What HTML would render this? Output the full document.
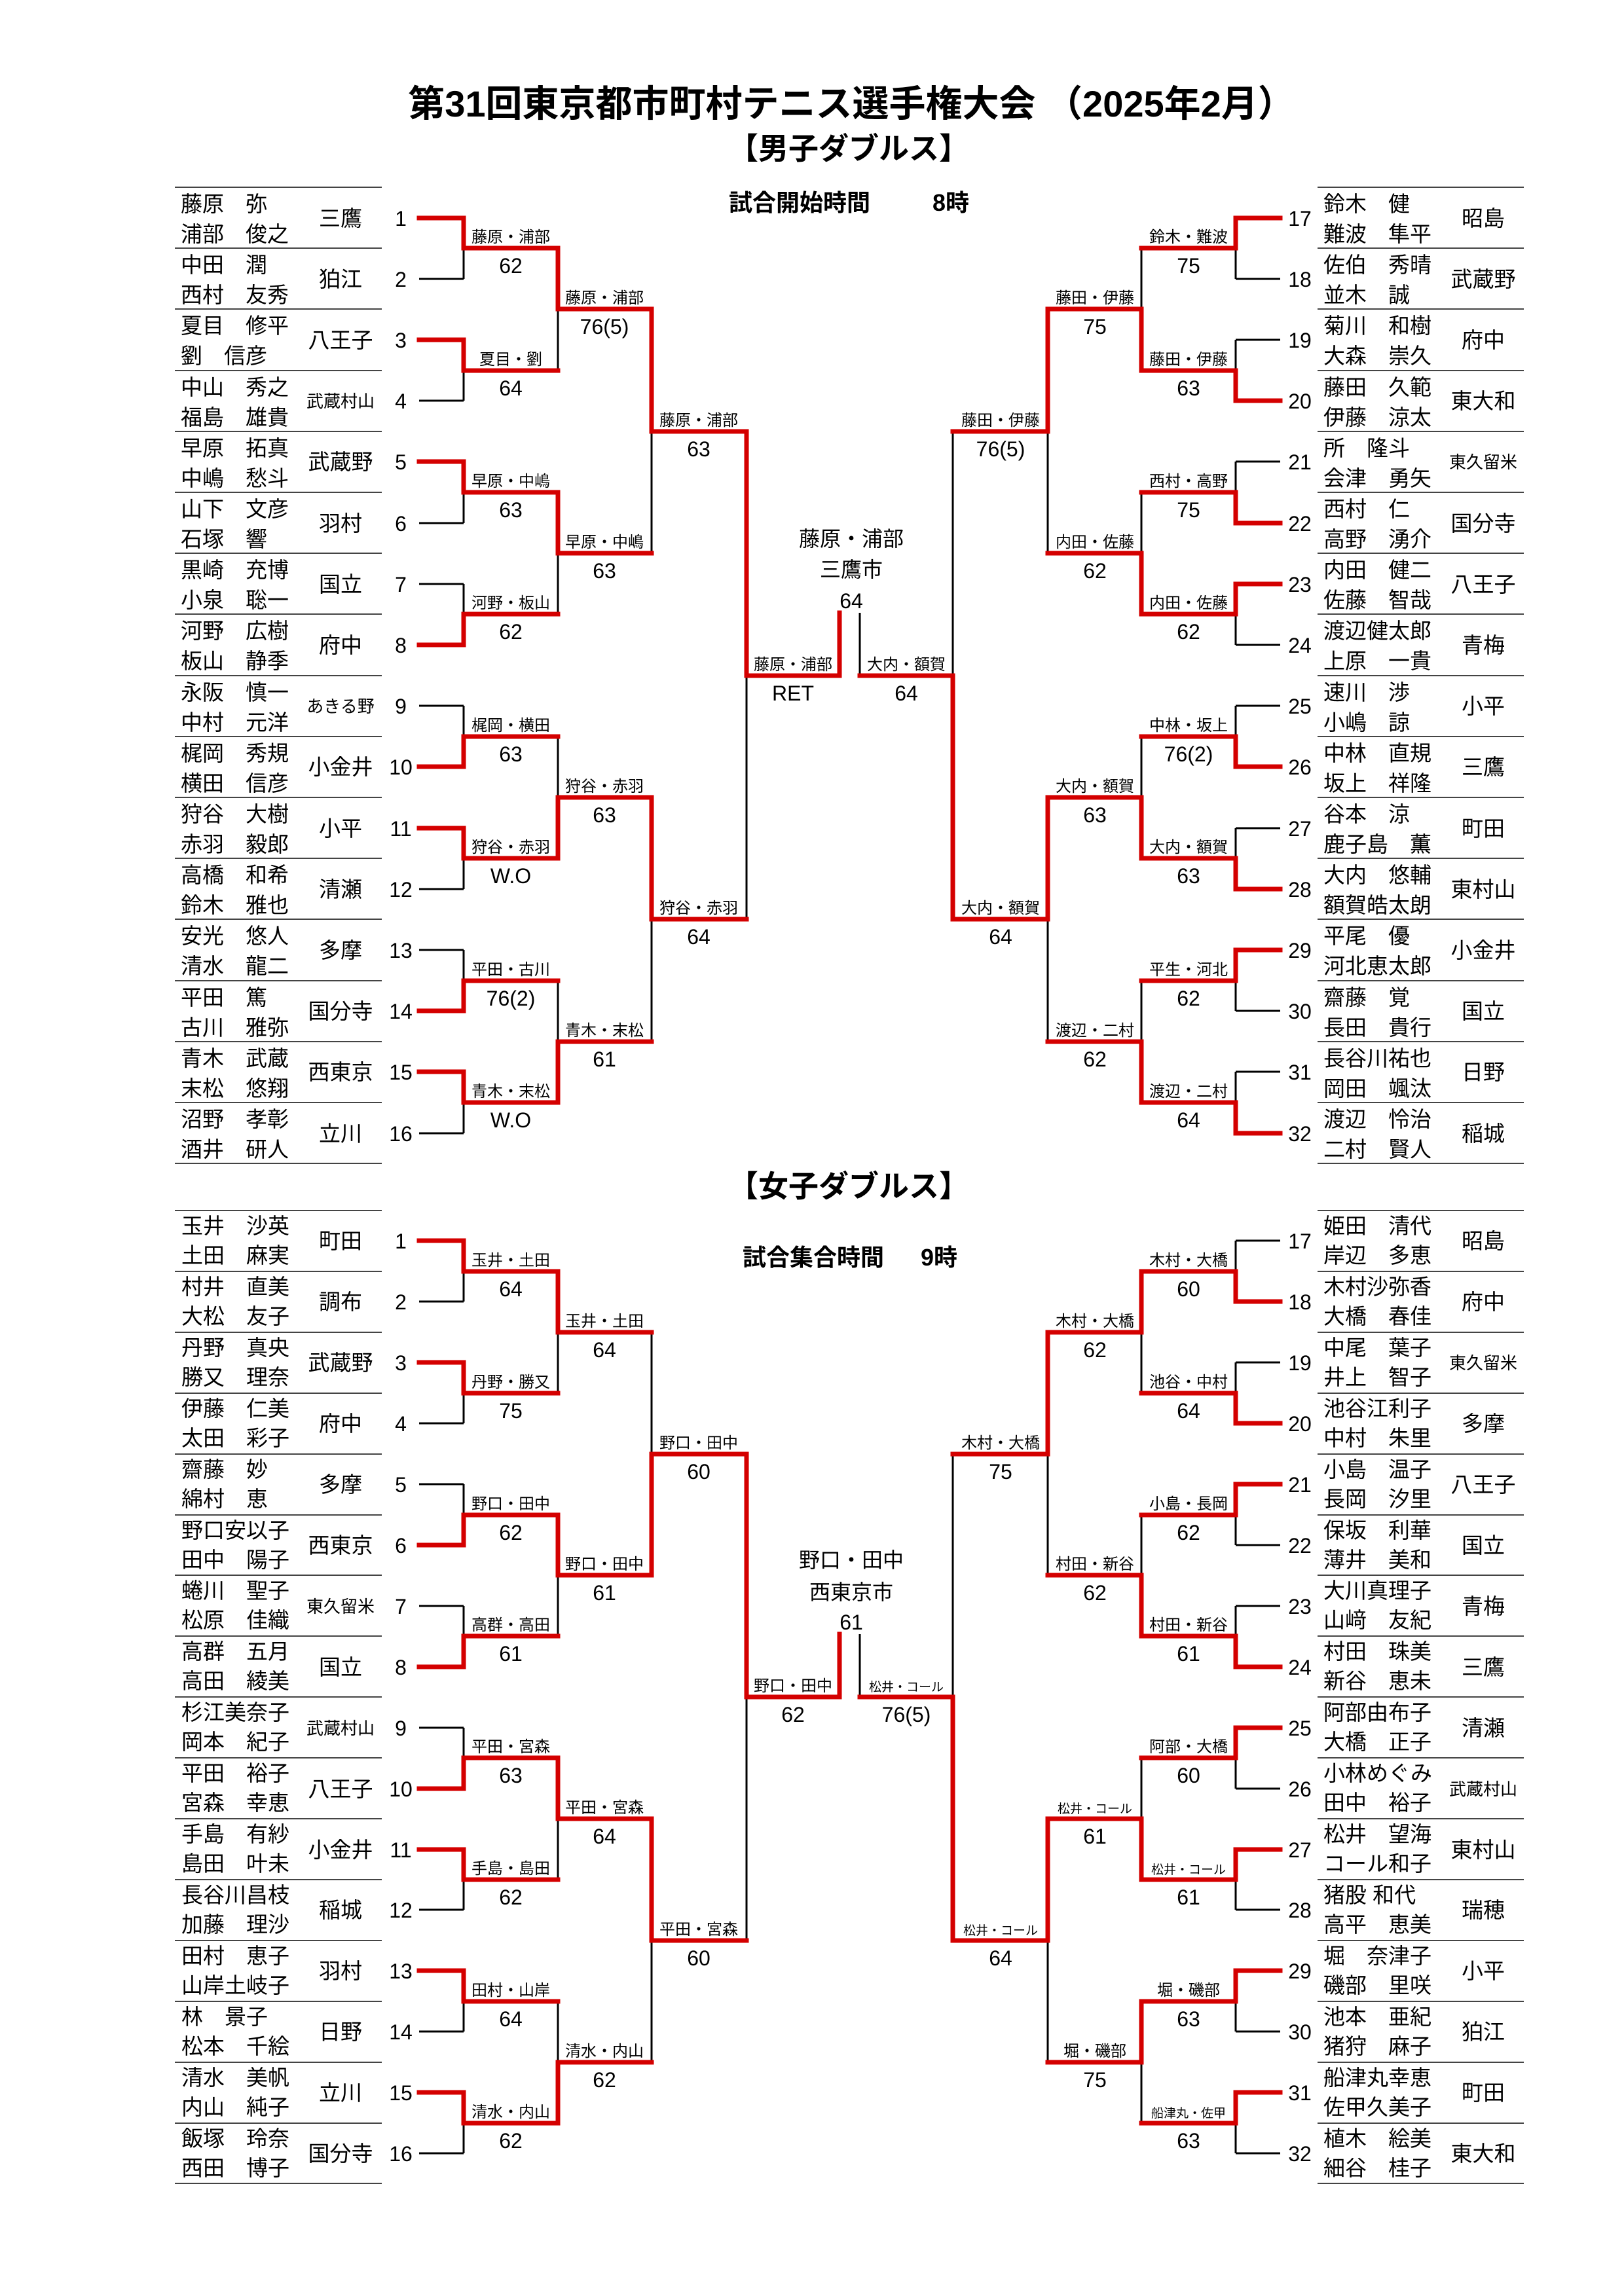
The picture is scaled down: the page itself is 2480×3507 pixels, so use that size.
<!DOCTYPE html>
<html><head><meta charset="utf-8">
<style>
html,body{margin:0;padding:0;background:#fff;}
svg{display:block;}
text{font-family:"Liberation Sans","Noto Sans CJK JP",sans-serif;fill:#000;}
.n{font-size:33px;}
.t{font-size:33px;text-anchor:middle;}
.ts{font-size:26px;text-anchor:middle;}
.s{font-size:32px;text-anchor:middle;}
.l{font-size:24px;text-anchor:middle;}
.ls{font-size:19px;text-anchor:middle;}
.sc{font-size:32px;text-anchor:middle;}
.c{font-size:32px;text-anchor:middle;}
.bl{stroke:#000;stroke-width:3;fill:none;}
.rd{stroke:#d40000;stroke-width:7;fill:none;stroke-linejoin:miter;stroke-linecap:square;}
.rl{stroke:#444;stroke-width:2;}
</style></head>
<body>
<svg width="2480" height="3507" viewBox="0 0 2480 3507" xmlns="http://www.w3.org/2000/svg">
<rect width="2480" height="3507" fill="#fff"/>

<text x="1300" y="178" style="font-size:56px;font-weight:bold;text-anchor:middle">第31回東京都市町村テニス選手権大会 （2025年2月）</text>
<text x="1296" y="243" style="font-size:46px;font-weight:bold;text-anchor:middle">【男子ダブルス】</text>
<text x="1113" y="322" style="font-size:36px;font-weight:bold">試合開始時間</text>
<text x="1424" y="322" style="font-size:36px;font-weight:bold">8時</text>
<text x="1296" y="1828" style="font-size:46px;font-weight:bold;text-anchor:middle">【女子ダブルス】</text>
<text x="1134" y="1933" style="font-size:36px;font-weight:bold">試合集合時間</text>
<text x="1406" y="1933" style="font-size:36px;font-weight:bold">9時</text>

<g class="rl">
<path d="M267 286H583M267 379H583M267 472H583M267 566H583M267 659H583M267 752H583M267 845H583M267 938H583M267 1032H583M267 1125H583M267 1218H583M267 1311H583M267 1404H583M267 1498H583M267 1591H583M267 1684H583M267 1777H583"/>
<path d="M2012 286H2327M2012 379H2327M2012 472H2327M2012 566H2327M2012 659H2327M2012 752H2327M2012 845H2327M2012 938H2327M2012 1032H2327M2012 1125H2327M2012 1218H2327M2012 1311H2327M2012 1404H2327M2012 1498H2327M2012 1591H2327M2012 1684H2327M2012 1777H2327"/>
<path d="M267 1849H583M267 1942H583M267 2035H583M267 2128H583M267 2221H583M267 2314H583M267 2406H583M267 2499H583M267 2592H583M267 2685H583M267 2778H583M267 2871H583M267 2964H583M267 3057H583M267 3150H583M267 3243H583M267 3335H583"/>
<path d="M2012 1849H2327M2012 1942H2327M2012 2035H2327M2012 2128H2327M2012 2221H2327M2012 2314H2327M2012 2406H2327M2012 2499H2327M2012 2592H2327M2012 2685H2327M2012 2778H2327M2012 2871H2327M2012 2964H2327M2012 3057H2327M2012 3150H2327M2012 3243H2327M2012 3335H2327"/>
</g>

<path class="bl" d="M640 333H708M640 426H708M640 519H708M640 612H708M640 705H708M640 799H708M640 892H708M640 985H708M640 1078H708M640 1171H708M640 1265H708M640 1358H708M640 1451H708M640 1544H708M640 1637H708M640 1731H708
M708 333V426M708 519V612M708 705V799M708 892V985M708 1078V1171M708 1265V1358M708 1451V1544M708 1637V1731
M852 379V566M852 752V938M852 1125V1311M852 1498V1684
M995 472V845M995 1218V1591M1140 659V1404"/>
<path class="bl" d="M1955 333H1887M1955 426H1887M1955 519H1887M1955 612H1887M1955 705H1887M1955 799H1887M1955 892H1887M1955 985H1887M1955 1078H1887M1955 1171H1887M1955 1265H1887M1955 1358H1887M1955 1451H1887M1955 1544H1887M1955 1637H1887M1955 1731H1887
M1887 333V426M1887 519V612M1887 705V799M1887 892V985M1887 1078V1171M1887 1265V1358M1887 1451V1544M1887 1637V1731
M1743 379V566M1743 752V938M1743 1125V1311M1743 1498V1684
M1600 472V845M1600 1218V1591M1455 659V1404M1313 936V1032"/>
<path class="bl" d="M640 1895H708M640 1988H708M640 2081H708M640 2174H708M640 2267H708M640 2360H708M640 2453H708M640 2546H708M640 2639H708M640 2732H708M640 2825H708M640 2917H708M640 3010H708M640 3103H708M640 3196H708M640 3289H708
M708 1895V1988M708 2081V2174M708 2267V2360M708 2453V2546M708 2639V2732M708 2825V2917M708 3010V3103M708 3196V3289
M852 1942V2128M852 2314V2499M852 2685V2871M852 3057V3243
M995 2035V2406M995 2778V3150M1140 2221V2964"/>
<path class="bl" d="M1955 1895H1887M1955 1988H1887M1955 2081H1887M1955 2174H1887M1955 2267H1887M1955 2360H1887M1955 2453H1887M1955 2546H1887M1955 2639H1887M1955 2732H1887M1955 2825H1887M1955 2917H1887M1955 3010H1887M1955 3103H1887M1955 3196H1887M1955 3289H1887
M1887 1895V1988M1887 2081V2174M1887 2267V2360M1887 2453V2546M1887 2639V2732M1887 2825V2917M1887 3010V3103M1887 3196V3289
M1743 1942V2128M1743 2314V2499M1743 2685V2871M1743 3057V3243
M1600 2035V2406M1600 2778V3150M1455 2221V2964M1313 2496V2592"/>

<g class="rd">
<path d="M640 333H708V379H852V472H995V659H1140V1032H1282V936"/>
<path d="M640 519H708V566H852"/>
<path d="M640 705H708V752H852V845H995"/>
<path d="M640 985H708V938H852"/>
<path d="M640 1171H708V1125H852"/>
<path d="M640 1265H708V1311H852V1218H995V1404H1140"/>
<path d="M640 1544H708V1498H852"/>
<path d="M640 1637H708V1684H852V1591H995"/>
<path d="M1955 333H1887V379H1743"/>
<path d="M1955 612H1887V566H1743V472H1600V659H1455"/>
<path d="M1955 799H1887V752H1743"/>
<path d="M1955 892H1887V938H1743V845H1600"/>
<path d="M1955 1171H1887V1125H1743"/>
<path d="M1955 1358H1887V1311H1743V1218H1600V1404H1455V1032H1313"/>
<path d="M1955 1451H1887V1498H1743"/>
<path d="M1955 1731H1887V1684H1743V1591H1600"/>
<path d="M640 1895H708V1942H852V2035H995"/>
<path d="M640 2081H708V2128H852"/>
<path d="M640 2360H708V2314H852V2406H995V2221H1140V2592H1282V2496"/>
<path d="M640 2546H708V2499H852"/>
<path d="M640 2732H708V2685H852V2778H995V2964H1140"/>
<path d="M640 2825H708V2871H852"/>
<path d="M640 3010H708V3057H852"/>
<path d="M640 3196H708V3243H852V3150H995"/>
<path d="M1955 1988H1887V1942H1743V2035H1600V2221H1455"/>
<path d="M1955 2174H1887V2128H1743"/>
<path d="M1955 2267H1887V2314H1743"/>
<path d="M1955 2546H1887V2499H1743V2406H1600"/>
<path d="M1955 2639H1887V2685H1743"/>
<path d="M1955 2825H1887V2871H1743V2778H1600V2964H1455V2592H1313"/>
<path d="M1955 3010H1887V3057H1743V3150H1600"/>
<path d="M1955 3196H1887V3243H1743"/>
</g>

<g class="n">
<text x="276" y="323">藤原　弥</text><text x="276" y="369">浦部　俊之</text>
<text x="276" y="416">中田　潤</text><text x="276" y="462">西村　友秀</text>
<text x="276" y="509">夏目　修平</text><text x="276" y="555">劉　信彦</text>
<text x="276" y="603">中山　秀之</text><text x="276" y="649">福島　雄貴</text>
<text x="276" y="696">早原　拓真</text><text x="276" y="742">中嶋　愁斗</text>
<text x="276" y="789">山下　文彦</text><text x="276" y="835">石塚　響</text>
<text x="276" y="882">黒崎　充博</text><text x="276" y="928">小泉　聡一</text>
<text x="276" y="975">河野　広樹</text><text x="276" y="1021">板山　静季</text>
<text x="276" y="1069">永阪　慎一</text><text x="276" y="1115">中村　元洋</text>
<text x="276" y="1162">梶岡　秀規</text><text x="276" y="1208">横田　信彦</text>
<text x="276" y="1255">狩谷　大樹</text><text x="276" y="1301">赤羽　毅郎</text>
<text x="276" y="1348">高橋　和希</text><text x="276" y="1394">鈴木　雅也</text>
<text x="276" y="1441">安光　悠人</text><text x="276" y="1487">清水　龍二</text>
<text x="276" y="1535">平田　篤</text><text x="276" y="1581">古川　雅弥</text>
<text x="276" y="1628">青木　武蔵</text><text x="276" y="1674">末松　悠翔</text>
<text x="276" y="1721">沼野　孝彰</text><text x="276" y="1767">酒井　研人</text>
</g>
<g>
<text class="t" x="520" y="345">三鷹</text><text class="t" x="520" y="438">狛江</text>
<text class="t" x="520" y="531">八王子</text><text class="ts" x="520" y="622">武蔵村山</text>
<text class="t" x="520" y="717">武蔵野</text><text class="t" x="520" y="811">羽村</text>
<text class="t" x="520" y="904">国立</text><text class="t" x="520" y="997">府中</text>
<text class="ts" x="520" y="1088">あきる野</text><text class="t" x="520" y="1183">小金井</text>
<text class="t" x="520" y="1277">小平</text><text class="t" x="520" y="1370">清瀬</text>
<text class="t" x="520" y="1463">多摩</text><text class="t" x="520" y="1556">国分寺</text>
<text class="t" x="520" y="1649">西東京</text><text class="t" x="520" y="1743">立川</text>
</g>
<g class="s">
<text x="612" y="345">1</text><text x="612" y="438">2</text><text x="612" y="531">3</text><text x="612" y="624">4</text>
<text x="612" y="717">5</text><text x="612" y="811">6</text><text x="612" y="904">7</text><text x="612" y="997">8</text>
<text x="612" y="1090">9</text><text x="612" y="1183">10</text><text x="612" y="1277">11</text><text x="612" y="1370">12</text>
<text x="612" y="1463">13</text><text x="612" y="1556">14</text><text x="612" y="1649">15</text><text x="612" y="1743">16</text>
</g>

<g class="n">
<text x="2021" y="323">鈴木　健</text><text x="2021" y="369">難波　隼平</text>
<text x="2021" y="416">佐伯　秀晴</text><text x="2021" y="462">並木　誠</text>
<text x="2021" y="509">菊川　和樹</text><text x="2021" y="555">大森　崇久</text>
<text x="2021" y="603">藤田　久範</text><text x="2021" y="649">伊藤　涼太</text>
<text x="2021" y="696">所　隆斗</text><text x="2021" y="742">会津　勇矢</text>
<text x="2021" y="789">西村　仁</text><text x="2021" y="835">高野　湧介</text>
<text x="2021" y="882">内田　健二</text><text x="2021" y="928">佐藤　智哉</text>
<text x="2021" y="975">渡辺健太郎</text><text x="2021" y="1021">上原　一貴</text>
<text x="2021" y="1069">速川　渉</text><text x="2021" y="1115">小嶋　諒</text>
<text x="2021" y="1162">中林　直規</text><text x="2021" y="1208">坂上　祥隆</text>
<text x="2021" y="1255">谷本　涼</text><text x="2021" y="1301">鹿子島　薫</text>
<text x="2021" y="1348">大内　悠輔</text><text x="2021" y="1394">額賀皓太朗</text>
<text x="2021" y="1441">平尾　優</text><text x="2021" y="1487">河北恵太郎</text>
<text x="2021" y="1535">齋藤　覚</text><text x="2021" y="1581">長田　貴行</text>
<text x="2021" y="1628">長谷川祐也</text><text x="2021" y="1674">岡田　颯汰</text>
<text x="2021" y="1721">渡辺　怜治</text><text x="2021" y="1767">二村　賢人</text>
</g>
<g>
<text class="t" x="2265" y="345">昭島</text><text class="t" x="2265" y="438">武蔵野</text>
<text class="t" x="2265" y="531">府中</text><text class="t" x="2265" y="624">東大和</text>
<text class="ts" x="2265" y="715">東久留米</text><text class="t" x="2265" y="811">国分寺</text>
<text class="t" x="2265" y="904">八王子</text><text class="t" x="2265" y="997">青梅</text>
<text class="t" x="2265" y="1090">小平</text><text class="t" x="2265" y="1183">三鷹</text>
<text class="t" x="2265" y="1277">町田</text><text class="t" x="2265" y="1370">東村山</text>
<text class="t" x="2265" y="1463">小金井</text><text class="t" x="2265" y="1556">国立</text>
<text class="t" x="2265" y="1649">日野</text><text class="t" x="2265" y="1743">稲城</text>
</g>
<g class="s">
<text x="1985" y="345">17</text><text x="1985" y="438">18</text><text x="1985" y="531">19</text><text x="1985" y="624">20</text>
<text x="1985" y="717">21</text><text x="1985" y="811">22</text><text x="1985" y="904">23</text><text x="1985" y="997">24</text>
<text x="1985" y="1090">25</text><text x="1985" y="1183">26</text><text x="1985" y="1277">27</text><text x="1985" y="1370">28</text>
<text x="1985" y="1463">29</text><text x="1985" y="1556">30</text><text x="1985" y="1649">31</text><text x="1985" y="1743">32</text>
</g>

<g class="l">
<text x="780" y="370">藤原・浦部</text><text x="780" y="557">夏目・劉</text><text x="780" y="743">早原・中嶋</text><text x="780" y="929">河野・板山</text>
<text x="780" y="1116">梶岡・横田</text><text x="780" y="1302">狩谷・赤羽</text><text x="780" y="1489">平田・古川</text><text x="780" y="1675">青木・末松</text>
<text x="923" y="463">藤原・浦部</text><text x="923" y="836">早原・中嶋</text><text x="923" y="1209">狩谷・赤羽</text><text x="923" y="1582">青木・末松</text>
<text x="1067" y="650">藤原・浦部</text><text x="1067" y="1395">狩谷・赤羽</text>
<text x="1211" y="1023">藤原・浦部</text>
<text x="1815" y="370">鈴木・難波</text><text x="1815" y="557">藤田・伊藤</text><text x="1815" y="743">西村・高野</text><text x="1815" y="929">内田・佐藤</text>
<text x="1815" y="1116">中林・坂上</text><text x="1815" y="1302">大内・額賀</text><text x="1815" y="1489">平生・河北</text><text x="1815" y="1675">渡辺・二村</text>
<text x="1672" y="463">藤田・伊藤</text><text x="1672" y="836">内田・佐藤</text><text x="1672" y="1209">大内・額賀</text><text x="1672" y="1582">渡辺・二村</text>
<text x="1528" y="650">藤田・伊藤</text><text x="1528" y="1395">大内・額賀</text>
<text x="1384" y="1023">大内・額賀</text>
</g>
<g class="sc">
<text x="780" y="417">62</text><text x="780" y="604">64</text><text x="780" y="790">63</text><text x="780" y="976">62</text>
<text x="780" y="1163">63</text><text x="780" y="1349">W.O</text><text x="780" y="1536">76(2)</text><text x="780" y="1722">W.O</text>
<text x="923" y="510">76(5)</text><text x="923" y="883">63</text><text x="923" y="1256">63</text><text x="923" y="1629">61</text>
<text x="1067" y="697">63</text><text x="1067" y="1442">64</text>
<text x="1211" y="1070">RET</text>
<text x="1815" y="417">75</text><text x="1815" y="604">63</text><text x="1815" y="790">75</text><text x="1815" y="976">62</text>
<text x="1815" y="1163">76(2)</text><text x="1815" y="1349">63</text><text x="1815" y="1536">62</text><text x="1815" y="1722">64</text>
<text x="1672" y="510">75</text><text x="1672" y="883">62</text><text x="1672" y="1256">63</text><text x="1672" y="1629">62</text>
<text x="1528" y="697">76(5)</text><text x="1528" y="1442">64</text>
<text x="1384" y="1070">64</text>
</g>
<g class="c">
<text x="1300" y="834">藤原・浦部</text><text x="1300" y="881">三鷹市</text><text x="1300" y="929">64</text>
<text x="1300" y="2394">野口・田中</text><text x="1300" y="2443">西東京市</text><text x="1300" y="2489">61</text>
</g>

<g class="n">
<text x="277" y="1884">玉井　沙英</text><text x="277" y="1929">土田　麻実</text>
<text x="277" y="1977">村井　直美</text><text x="277" y="2022">大松　友子</text>
<text x="277" y="2070">丹野　真央</text><text x="277" y="2115">勝又　理奈</text>
<text x="277" y="2163">伊藤　仁美</text><text x="277" y="2208">太田　彩子</text>
<text x="277" y="2256">齋藤　妙</text><text x="277" y="2301">綿村　恵</text>
<text x="277" y="2349">野口安以子</text><text x="277" y="2394">田中　陽子</text>
<text x="277" y="2441">蜷川　聖子</text><text x="277" y="2486">松原　佳織</text>
<text x="277" y="2534">高群　五月</text><text x="277" y="2579">高田　綾美</text>
<text x="277" y="2627">杉江美奈子</text><text x="277" y="2672">岡本　紀子</text>
<text x="277" y="2720">平田　裕子</text><text x="277" y="2765">宮森　幸恵</text>
<text x="277" y="2813">手島　有紗</text><text x="277" y="2858">島田　叶未</text>
<text x="277" y="2906">長谷川昌枝</text><text x="277" y="2951">加藤　理沙</text>
<text x="277" y="2999">田村　恵子</text><text x="277" y="3044">山岸土岐子</text>
<text x="277" y="3092">林　景子</text><text x="277" y="3137">松本　千絵</text>
<text x="277" y="3185">清水　美帆</text><text x="277" y="3230">内山　純子</text>
<text x="277" y="3278">飯塚　玲奈</text><text x="277" y="3323">西田　博子</text>
</g>
<g>
<text class="t" x="520" y="1907">町田</text><text class="t" x="520" y="2000">調布</text>
<text class="t" x="520" y="2093">武蔵野</text><text class="t" x="520" y="2186">府中</text>
<text class="t" x="520" y="2279">多摩</text><text class="t" x="520" y="2372">西東京</text>
<text class="ts" x="520" y="2463">東久留米</text><text class="t" x="520" y="2558">国立</text>
<text class="ts" x="520" y="2649">武蔵村山</text><text class="t" x="520" y="2744">八王子</text>
<text class="t" x="520" y="2837">小金井</text><text class="t" x="520" y="2929">稲城</text>
<text class="t" x="520" y="3022">羽村</text><text class="t" x="520" y="3115">日野</text>
<text class="t" x="520" y="3208">立川</text><text class="t" x="520" y="3301">国分寺</text>
</g>
<g class="s">
<text x="612" y="1907">1</text><text x="612" y="2000">2</text><text x="612" y="2093">3</text><text x="612" y="2186">4</text>
<text x="612" y="2279">5</text><text x="612" y="2372">6</text><text x="612" y="2465">7</text><text x="612" y="2558">8</text>
<text x="612" y="2651">9</text><text x="612" y="2744">10</text><text x="612" y="2837">11</text><text x="612" y="2929">12</text>
<text x="612" y="3022">13</text><text x="612" y="3115">14</text><text x="612" y="3208">15</text><text x="612" y="3301">16</text>
</g>

<g class="n">
<text x="2021" y="1884">姫田　清代</text><text x="2021" y="1929">岸辺　多恵</text>
<text x="2021" y="1977">木村沙弥香</text><text x="2021" y="2022">大橋　春佳</text>
<text x="2021" y="2070">中尾　葉子</text><text x="2021" y="2115">井上　智子</text>
<text x="2021" y="2163">池谷江利子</text><text x="2021" y="2208">中村　朱里</text>
<text x="2021" y="2256">小島　温子</text><text x="2021" y="2301">長岡　汐里</text>
<text x="2021" y="2349">保坂　利華</text><text x="2021" y="2394">薄井　美和</text>
<text x="2021" y="2441">大川真理子</text><text x="2021" y="2486">山﨑　友紀</text>
<text x="2021" y="2534">村田　珠美</text><text x="2021" y="2579">新谷　恵未</text>
<text x="2021" y="2627">阿部由布子</text><text x="2021" y="2672">大橋　正子</text>
<text x="2021" y="2720">小林めぐみ</text><text x="2021" y="2765">田中　裕子</text>
<text x="2021" y="2813">松井　望海</text><text x="2021" y="2858">コール和子</text>
<text x="2021" y="2906">猪股 和代</text><text x="2021" y="2951">高平　恵美</text>
<text x="2021" y="2999">堀　奈津子</text><text x="2021" y="3044">磯部　里咲</text>
<text x="2021" y="3092">池本　亜紀</text><text x="2021" y="3137">猪狩　麻子</text>
<text x="2021" y="3185">船津丸幸恵</text><text x="2021" y="3230">佐甲久美子</text>
<text x="2021" y="3278">植木　絵美</text><text x="2021" y="3323">細谷　桂子</text>
</g>
<g>
<text class="t" x="2265" y="1907">昭島</text><text class="t" x="2265" y="2000">府中</text>
<text class="ts" x="2265" y="2091">東久留米</text><text class="t" x="2265" y="2186">多摩</text>
<text class="t" x="2265" y="2279">八王子</text><text class="t" x="2265" y="2372">国立</text>
<text class="t" x="2265" y="2465">青梅</text><text class="t" x="2265" y="2558">三鷹</text>
<text class="t" x="2265" y="2651">清瀬</text><text class="ts" x="2265" y="2742">武蔵村山</text>
<text class="t" x="2265" y="2837">東村山</text><text class="t" x="2265" y="2929">瑞穂</text>
<text class="t" x="2265" y="3022">小平</text><text class="t" x="2265" y="3115">狛江</text>
<text class="t" x="2265" y="3208">町田</text><text class="t" x="2265" y="3301">東大和</text>
</g>
<g class="s">
<text x="1985" y="1907">17</text><text x="1985" y="2000">18</text><text x="1985" y="2093">19</text><text x="1985" y="2186">20</text>
<text x="1985" y="2279">21</text><text x="1985" y="2372">22</text><text x="1985" y="2465">23</text><text x="1985" y="2558">24</text>
<text x="1985" y="2651">25</text><text x="1985" y="2744">26</text><text x="1985" y="2837">27</text><text x="1985" y="2929">28</text>
<text x="1985" y="3022">29</text><text x="1985" y="3115">30</text><text x="1985" y="3208">31</text><text x="1985" y="3301">32</text>
</g>

<g class="l">
<text x="780" y="1933">玉井・土田</text><text x="780" y="2119">丹野・勝又</text><text x="780" y="2305">野口・田中</text><text x="780" y="2490">高群・高田</text>
<text x="780" y="2676">平田・宮森</text><text x="780" y="2862">手島・島田</text><text x="780" y="3048">田村・山岸</text><text x="780" y="3234">清水・内山</text>
<text x="923" y="2026">玉井・土田</text><text x="923" y="2397">野口・田中</text><text x="923" y="2769">平田・宮森</text><text x="923" y="3141">清水・内山</text>
<text x="1067" y="2212">野口・田中</text><text x="1067" y="2955">平田・宮森</text>
<text x="1211" y="2583">野口・田中</text>
<text x="1815" y="1933">木村・大橋</text><text x="1815" y="2119">池谷・中村</text><text x="1815" y="2305">小島・長岡</text><text x="1815" y="2490">村田・新谷</text>
<text x="1815" y="2676">阿部・大橋</text><text x="1815" y="3048">堀・磯部</text>
<text x="1672" y="2026">木村・大橋</text><text x="1672" y="2397">村田・新谷</text><text x="1672" y="3141">堀・磯部</text>
<text x="1528" y="2212">木村・大橋</text>
</g>
<g class="ls">
<text x="1815" y="2862">松井・コール</text><text x="1815" y="3234">船津丸・佐甲</text>
<text x="1672" y="2769">松井・コール</text>
<text x="1528" y="2955">松井・コール</text>
<text x="1384" y="2583">松井・コール</text>
</g>
<g class="sc">
<text x="780" y="1980">64</text><text x="780" y="2166">75</text><text x="780" y="2352">62</text><text x="780" y="2537">61</text>
<text x="780" y="2723">63</text><text x="780" y="2909">62</text><text x="780" y="3095">64</text><text x="780" y="3281">62</text>
<text x="923" y="2073">64</text><text x="923" y="2444">61</text><text x="923" y="2816">64</text><text x="923" y="3188">62</text>
<text x="1067" y="2259">60</text><text x="1067" y="3002">60</text>
<text x="1211" y="2630">62</text>
<text x="1815" y="1980">60</text><text x="1815" y="2166">64</text><text x="1815" y="2352">62</text><text x="1815" y="2537">61</text>
<text x="1815" y="2723">60</text><text x="1815" y="2909">61</text><text x="1815" y="3095">63</text><text x="1815" y="3281">63</text>
<text x="1672" y="2073">62</text><text x="1672" y="2444">62</text><text x="1672" y="2816">61</text><text x="1672" y="3188">75</text>
<text x="1528" y="2259">75</text><text x="1528" y="3002">64</text>
<text x="1384" y="2630">76(5)</text>
</g>
</svg>
</body></html>
